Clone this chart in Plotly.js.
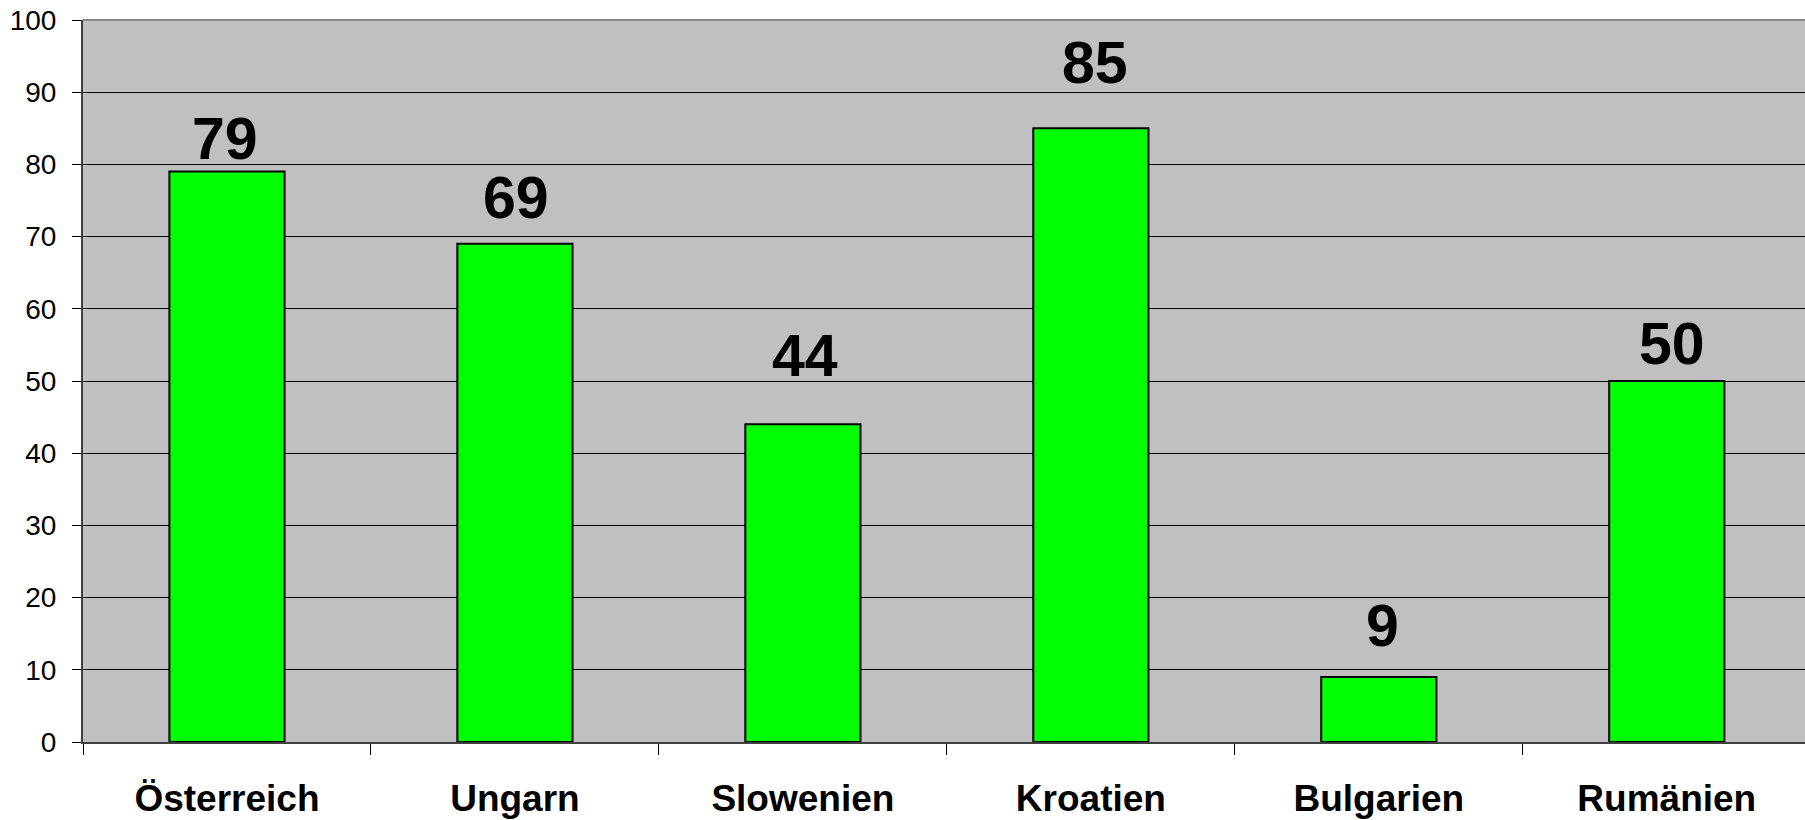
<!DOCTYPE html>
<html>
<head>
<meta charset="utf-8">
<script src="https://cdn.plot.ly/plotly-3.0.1.min.js"></script>
<style>
  html, body { margin: 0; padding: 0; background: #ffffff; }
  #chart { width: 1805px; height: 820px; }
</style>
</head>
<body>
<div id="chart"></div>
<script>
// ---- data ----
const countries = ["Österreich", "Ungarn", "Slowenien", "Kroatien", "Bulgarien", "Rumänien"];
const values = [79, 69, 44, 85, 9, 50];
const yTickValues = [0, 10, 20, 30, 40, 50, 60, 70, 80, 90, 100];

// ---- label placement (pixels, style only) ----
const labelShiftY = [33, 46, 68, 65, 51, 37];
const labelShiftX = [-2, 1, 2, 4, 4, 5];

const FONT = "Liberation Sans, Arial, Helvetica, sans-serif";

const trace = {
  type: "bar",
  x: countries,
  y: values,
  width: 0.4,
  marker: { color: "#00FF00", line: { color: "#000000", width: 2 } },
  hoverinfo: "x+y"
};

const annotations = countries.map((c, i) => ({
  x: c,
  y: values[i],
  xref: "x",
  yref: "y",
  text: String(values[i]),
  showarrow: false,
  xanchor: "center",
  yanchor: "middle",
  yshift: labelShiftY[i],
  xshift: labelShiftX[i],
  font: { family: FONT, size: 59, color: "#000000", weight: "bold" }
}));

const layout = {
  width: 1805,
  height: 820,
  margin: { l: 83, r: 0, t: 20, b: 78, pad: 0 },
  paper_bgcolor: "#ffffff",
  plot_bgcolor: "#C0C0C0",
  showlegend: false,
  bargap: 0.6,
  xaxis: {
    type: "category",
    range: [-0.5, 5.48],
    tickson: "boundaries",
    ticks: "outside",
    ticklen: 11,
    tickwidth: 1,
    tickcolor: "#000000",
    showline: true,
    linecolor: "#404040",
    linewidth: 2,
    showgrid: false,
    ticklabelstandoff: 23,
    tickfont: { family: FONT, size: 37, color: "#000000", weight: "bold" },
    fixedrange: true
  },
  yaxis: {
    range: [0, 100],
    tickmode: "array",
    tickvals: yTickValues,
    ticktext: yTickValues.map(String),
    ticks: "outside",
    ticklen: 9,
    tickwidth: 1,
    tickcolor: "#000000",
    showline: true,
    linecolor: "#404040",
    linewidth: 2,
    showgrid: true,
    gridcolor: "#000000",
    gridwidth: 1,
    zeroline: false,
    ticklabelstandoff: 10,
    tickfont: { family: FONT, size: 28, color: "#000000" },
    fixedrange: true
  },
  shapes: [
    { type: "line", xref: "paper", yref: "paper", x0: 0, x1: 1, y0: 1, y1: 1,
      line: { color: "#888888", width: 2 } }
  ],
  annotations: annotations
};

Plotly.newPlot("chart", [trace], layout, { displayModeBar: false, staticPlot: true });
</script>
</body>
</html>
